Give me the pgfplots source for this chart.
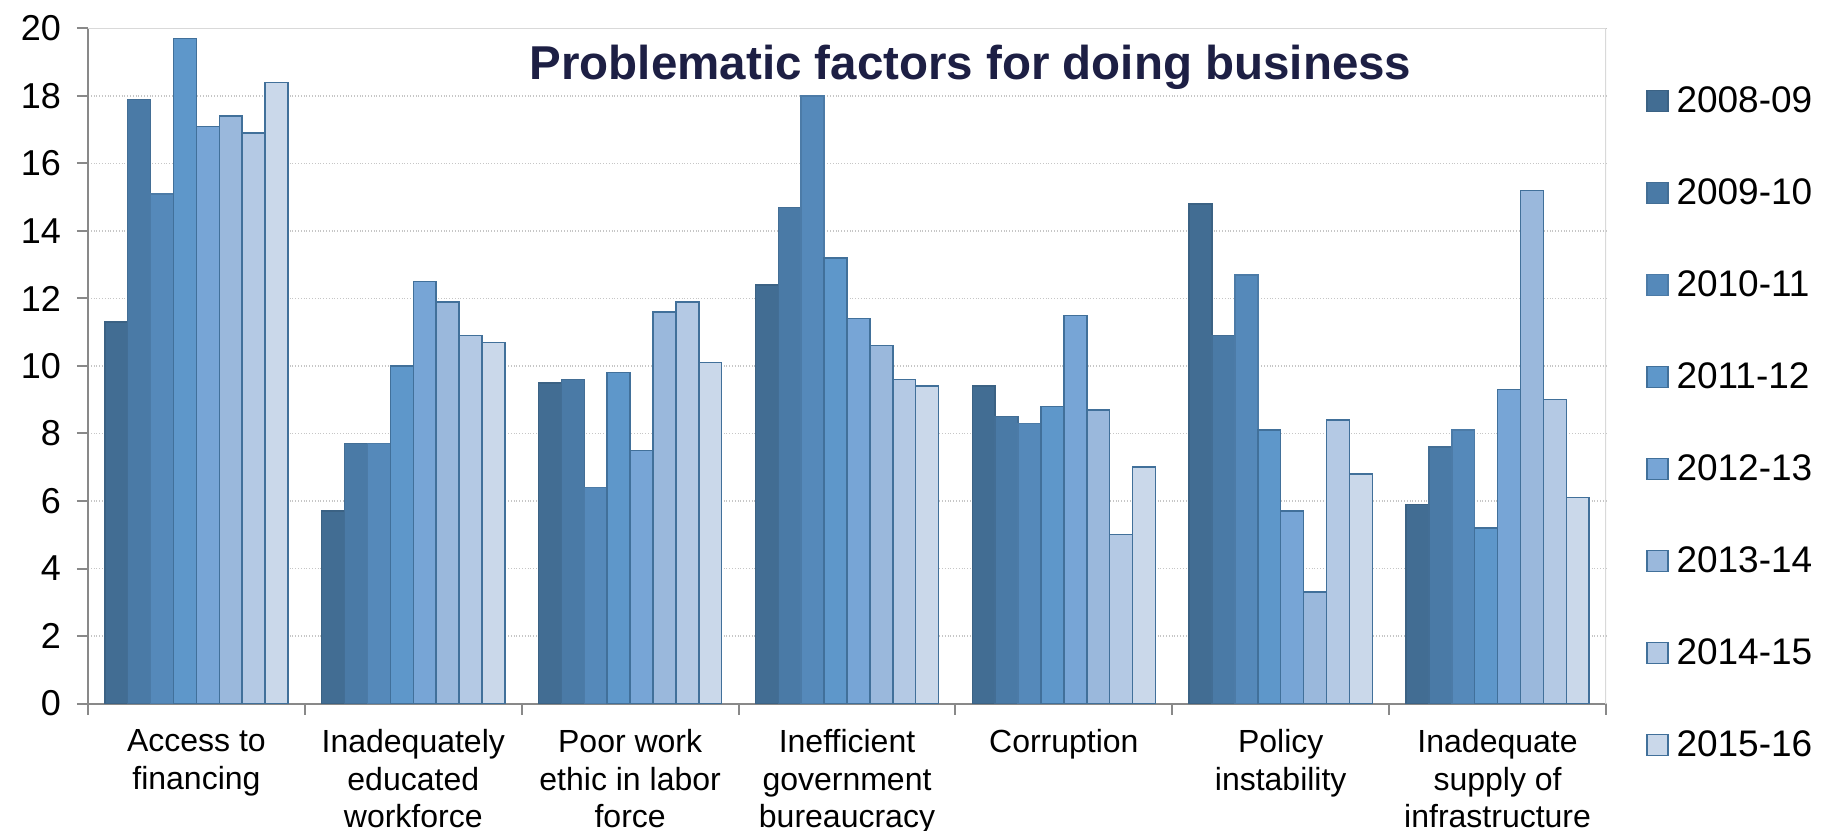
\documentclass[border=0pt]{standalone}
\usepackage{fontspec}
\setmainfont{Liberation Sans}
\usepackage{pgfplots}
\usepackage{pgfplotstable}
\pgfplotsset{compat=1.18}
\definecolor{c1}{HTML}{426D93}
\definecolor{c2}{HTML}{4A7AA6}
\definecolor{c3}{HTML}{5589BA}
\definecolor{c4}{HTML}{5E97CA}
\definecolor{c5}{HTML}{77A5D6}
\definecolor{c6}{HTML}{9AB8DC}
\definecolor{c7}{HTML}{B4C9E4}
\definecolor{c8}{HTML}{CAD8EA}
\definecolor{edge}{HTML}{41709A}
\definecolor{axisgray}{HTML}{898989}
\definecolor{framegray}{HTML}{D9D9D9}
\definecolor{titlecol}{HTML}{1D1F44}
\pgfplotstableread{
x a b c d e f g h
0 11.3 17.9 15.1 19.7 17.1 17.4 16.9 18.4
1 5.7 7.7 7.7 10.0 12.5 11.9 10.9 10.7
2 9.5 9.6 6.4 9.8 7.5 11.6 11.9 10.1
3 12.4 14.7 18.0 13.2 11.4 10.6 9.6 9.4
4 9.4 8.5 8.3 8.8 11.5 8.7 5.0 7.0
5 14.8 10.9 12.7 8.1 5.7 3.3 8.4 6.8
6 5.9 7.6 8.1 5.2 9.3 15.2 9.0 6.1
}\data
\begin{document}
\begin{tikzpicture}
\begin{axis}[
  scale only axis,
  width=759pt, height=337.5pt,
  xmin=-0.5, xmax=6.5, ymin=0, ymax=20,
  enlargelimits=false,
  ybar=0pt, bar width=11.45pt,
  axis lines*=left,
  axis line style={draw=axisgray, line width=1pt},
  tick align=outside,
  major tick length=5.5pt,
  tick style={draw=axisgray, line width=1pt},
  xtick={-0.5,0.5,1.5,2.5,3.5,4.5,5.5,6.5},
  x tick label as interval,
  xticklabels={{Access to\\financing},{Inadequately\\educated\\workforce},{Poor work\\ethic in labor\\force},{Inefficient\\government\\bureaucracy},{Corruption},{Policy\\instability},{Inadequate\\supply of\\infrastructure}},
  xticklabel style={align=center, font=\fontsize{16}{18.75}\selectfont, text=black, yshift=-4pt},
  ytick={0,2,...,20},
  /pgf/number format/assume math mode=true,
  yticklabel style={font=\fontsize{18}{20}\selectfont, text=black, xshift=-4.5pt},
  ymajorgrids,
  major grid style={densely dotted, draw=gray!45, line width=0.6pt},
  legend cell align=left,
  legend image code/.code={\draw[#1, line width=0.75pt] (0pt,-5.25pt) rectangle (10.5pt,5.25pt);},
  legend style={at={(1.02635,0.9607)}, anchor=north west, draw=none, fill=none,
    inner sep=0pt, outer sep=0pt, row sep=0pt,
    font=\fontsize{18.5}{20}\selectfont,
    nodes={inner sep=0pt, minimum height=46pt},
    /tikz/every odd column/.append style={column sep=4pt}},
  every axis plot/.append style={line width=0.75pt},
]
\addplot[fill=c1, draw=c1!90!black] table[x=x, y=a] {\data};
\addplot[fill=c2, draw=c2!90!black] table[x=x, y=b] {\data};
\addplot[fill=c3, draw=c3!90!black] table[x=x, y=c] {\data};
\addplot[fill=c4, draw=edge] table[x=x, y=d] {\data};
\addplot[fill=c5, draw=edge] table[x=x, y=e] {\data};
\addplot[fill=c6, draw=edge] table[x=x, y=f] {\data};
\addplot[fill=c7, draw=edge] table[x=x, y=g] {\data};
\addplot[fill=c8, draw=edge] table[x=x, y=h] {\data};
\legend{2008-09,2009-10,2010-11,2011-12,2012-13,2013-14,2014-15,2015-16}
\draw[framegray, line width=1pt] (rel axis cs:0,1) -- (rel axis cs:1,1) -- (rel axis cs:1,0);
\node[anchor=base, font=\fontsize{23.75}{26}\selectfont\bfseries, text=titlecol] at (rel axis cs:0.5814,0.9237) {Problematic factors for doing business};
\end{axis}
\pgfresetboundingbox
\path[use as bounding box] ([shift={(-44pt,-63.25pt)}]current axis.south west) rectangle ([shift={(868pt,351.75pt)}]current axis.south west);
\end{tikzpicture}
\end{document}
